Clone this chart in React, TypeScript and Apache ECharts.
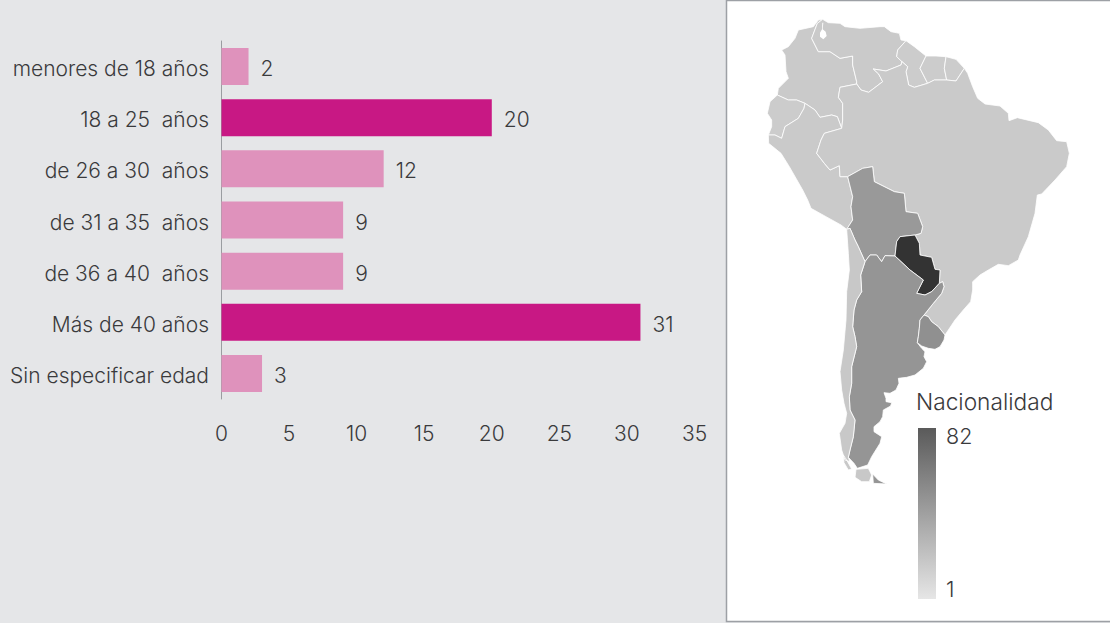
import React, { useEffect, useRef } from "react";
import * as echarts from "echarts";

// ---------- bar chart data ----------
const ageCategories = [
  "menores de 18 años",
  "18 a 25  años",
  "de 26 a 30  años",
  "de 31 a 35  años",
  "de 36 a 40  años",
  "Más de 40 años",
  "Sin especificar edad",
];
const ageValues = [2, 20, 12, 9, 9, 31, 3];
const highlighted = [false, true, false, false, false, true, false];

// ---------- map data ----------
const countryNames = [
  "Argentina", "Bolivia", "Brasil", "Chile", "Colombia", "Ecuador",
  "Guayana Francesa", "Guyana", "Paraguay", "Perú", "Surinam", "Uruguay", "Venezuela",
];
const countryValues = [30, 28, 2, 3, 2, 1, 1, 1, 82, 2, 1, 33, 2];

type P = [number, number];
// traces, each in the frame of one reference crop
const frame = (ox: number, oy: number) => (a: number[][]): P[] => a.map(([x, y]) => [ox + x / 3, oy + y / 3]);
const n = frame(726, 0);
const s = frame(800, 220);
const c = frame(830, 400);
const d = frame(760, 10);
const e = frame(940, 100);
const r = (a: P[]): P[] => [...a].reverse();

const colCoast = d([[188,28],[175,30],[160,50],[115,60],[105,85],[85,110],[65,120],[75,135],[78,185],[85,205],[55,235],[52,255]]);
const colVen = d([[188,28],[172,40],[155,85],[175,125],[210,125],[240,145],[278,138],[278,165],[290,215],[290,222]]);
const colBra = d([[290,222],[240,232],[235,262],[248,280],[248,330],[245,355]]);
const colPer = d([[245,355],[232,320],[215,315],[180,322],[165,300],[135,280]]);
const colEcu = d([[135,280],[110,270],[85,270],[52,255]]);
const ecuCoast = d([[52,255],[30,275],[22,310],[35,330],[35,350],[25,375]]);
const ecuPer = d([[25,375],[45,375],[65,385],[75,350],[115,325],[132,295],[135,280]]);
const perCoast = [...d([[25,375]]), ...n([[128,430],[165,460],[190,500],[230,570],[245,600],[255,625],[300,650],[345,675],[362,688]])];
const perBol = n([[362,688],[380,660],[375,620],[380,590],[365,530]]);
const perBra = [...n([[365,530],[342,530],[340,497],[312,510],[295,490],[272,460],[285,420],[295,400]]), ...d([[245,355]])];
const venCoast = [...d([[188,28],[205,38],[240,40],[255,50],[300,55],[360,50]]), ...n([[475,80],[495,95],[520,100],[525,120],[540,122]])];
const venGuy = n([[540,122],[515,150],[512,170],[528,185]]);
const venBra = [...n([[528,185],[525,195],[480,213],[442,207],[458,222],[470,245],[428,277],[405,270]]), ...d([[290,222]])];
const maracaibo = d([[187,38],[190,38],[188,58],[197,65],[200,78],[190,88],[180,80],[180,68],[186,58]]);
const guyCoast = n([[540,122],[565,140],[600,168]]);
const guySur = n([[600,168],[582,205],[605,250]]);
const guyBra = n([[605,250],[565,262],[548,255],[540,215],[545,200],[528,185]]);
const surCoast = n([[600,168],[630,168],[660,170]]);
const surFg = n([[660,170],[655,205],[662,240]]);
const surBra = n([[662,240],[625,240],[605,250]]);
const fgCoast = n([[660,170],[690,178],[715,205]]);
const fgBra = n([[715,205],[690,243],[662,240]]);
const braCoast = [
  ...n([[715,205],[725,220],[740,260],[755,295]]),
  ...e([[130,8],[135,12],[180,18],[205,40],[207,62],[232,53],[295,68],[325,90],[350,122],[380,125],[388,160],[380,200],[345,240],[305,282],[292,285],[285,340],[265,410],[240,465],[235,480],[205,497],[175,493],[145,510],[120,525],[98,545],[98,570]]),
  ...s([[512,245],[490,270],[465,300],[445,330],[435,345]]),
];
const braUru = s([[435,345],[415,320],[395,305],[385,290],[372,285]]);
const braArg = s([[372,285],[400,250],[425,220],[432,200],[428,185],[418,190]]);
const braPar = s([[418,190],[420,150],[405,148],[395,112],[360,105],[358,70],[345,45]]);
const bolBra = [
  ...n([[365,530],[410,505],[440,500],[445,545],[505,575],[535,580],[540,635],[575,640],[590,680],[585,700]]),
  ...s([[345,45]]),
];
const parBol = s([[285,108],[290,65],[300,50],[345,45]]);
const parArg = s([[418,190],[395,215],[375,225],[350,220],[370,180],[330,150],[285,108]]);
const bolArg = s([[285,108],[255,107],[245,125],[230,105],[210,105],[195,125]]);
const bolChi = [...s([[195,125],[175,80],[165,60],[150,25]]), ...n([[362,688]])];
const argChi = s([[195,125],[182,165],[185,215],[170,240],[162,270],[158,320],[165,350],[170,380],[160,420],[155,440],[155,490],[148,530],[150,570],[165,600],[160,650],[150,690],[145,712]]);
const argCoast = [
  ...s([[352,368],[365,385],[375,395],[372,410],[380,425],[370,445],[345,465],[320,472],[295,475],[297,490],[288,510],[270,520],[252,518],[258,535],[258,545],[275,548],[272,558],[250,570],[248,590],[240,605],[222,620],[222,635],[245,650],[240,670]]),
  ...c([[125,170],[113,195],[82,205],[72,190]]),
  ...s([[145,712]]),
];
const argUru = s([[352,368],[355,350],[358,325],[360,300],[372,285]]);
const uruCoast = s([[435,345],[432,360],[420,380],[405,388],[385,385],[365,378],[352,368]]);
const chiCoast = [
  ...c([[60,185],[45,180],[35,150],[28,100],[45,70],[50,40],[42,10]]),
  ...s([[125,510],[120,455],[130,390],[138,300],[140,215],[148,150],[145,100],[140,28]]),
];
const chileIsle = c([[40,165],[50,180],[65,207],[55,210],[42,188]]);
const chileFuego = c([[78,208],[115,205],[125,225],[118,245],[95,245],[75,232]]);
const tierraFuego = c([[128,222],[145,240],[170,252],[130,250]]);

const rings: Record<string, P[][][]> = {
  Colombia: [[[...colVen, ...colBra, ...colPer, ...colEcu, ...r(colCoast)]]],
  Ecuador: [[[...ecuCoast, ...ecuPer, ...colEcu]]],
  "Perú": [[[...perCoast, ...perBol, ...perBra, ...colPer, ...r(ecuPer)]]],
  Venezuela: [[[...venCoast, ...venGuy, ...venBra, ...r(colVen)]]],
  Guyana: [[[...guyCoast, ...guySur, ...guyBra, ...r(venGuy)]]],
  Surinam: [[[...surCoast, ...surFg, ...surBra, ...r(guySur)]]],
  "Guayana Francesa": [[[...fgCoast, ...fgBra, ...r(surFg)]]],
  Brasil: [[[...braCoast, ...braUru, ...braArg, ...braPar, ...r(bolBra), ...perBra, ...r(colBra), ...r(venBra), ...r(guyBra), ...r(surBra), ...r(fgBra)]]],
  Bolivia: [[[...bolBra, ...r(parBol), ...bolArg, ...bolChi, ...perBol]]],
  Paraguay: [[[...parBol, ...r(braPar), ...parArg]]],
  Argentina: [[[...bolArg, ...argChi, ...r(argCoast), ...argUru, ...braArg, ...parArg]], [tierraFuego]],
  Uruguay: [[[...argUru, ...r(braUru), ...uruCoast]]],
  Chile: [[[...r(bolChi), ...argChi, ...chiCoast]], [chileIsle], [chileFuego]],
};

const closeRing = (ring: P[]): P[] => [...ring, ring[0]];
const geoJson = {
  type: "FeatureCollection",
  features: Object.keys(rings).map((name) => ({
    type: "Feature",
    properties: { name },
    geometry: { type: "MultiPolygon", coordinates: rings[name].map((poly) => poly.map(closeRing)) },
  })),
};
const allPts = Object.values(rings).flat(3) as P[];
const minX = Math.min(...allPts.map((p) => p[0]));
const maxX = Math.max(...allPts.map((p) => p[0]));
const minY = Math.min(...allPts.map((p) => p[1]));
const maxY = Math.max(...allPts.map((p) => p[1]));

const FONT = "Inter";
const TEXT = "#3a3a3c";

export default function App() {
  const ref = useRef<HTMLDivElement>(null);
  useEffect(() => {
    document.body.style.margin = "0";
    echarts.registerMap("sudamerica", geoJson as any);
    const chart = echarts.init(ref.current!, null, { renderer: "svg" });
    chart.setOption({
      animation: false,
      backgroundColor: "#e5e6e8",
      textStyle: { fontFamily: FONT },
      grid: { left: 221.5, top: 41, width: 473, height: 358, containLabel: false },
      xAxis: {
        type: "value",
        min: 0,
        max: 35,
        interval: 5,
        splitLine: { show: false },
        axisLine: { show: false },
        axisTick: { show: false },
        axisLabel: { color: TEXT, fontFamily: FONT, fontSize: 21, fontWeight: 300, margin: 24 },
      },
      yAxis: {
        type: "category",
        inverse: true,
        data: ageCategories,
        axisLine: { show: true, lineStyle: { color: "#9a9da1", width: 1 } },
        axisTick: { show: false },
        axisLabel: {
          margin: 12.5,
          formatter: "{a|{value}}",
          rich: { a: { color: TEXT, fontFamily: FONT, fontSize: 21, fontWeight: 300, padding: [4, 0, 0, 0] } },
        },
      },
      visualMap: {
        type: "continuous",
        show: false,
        seriesIndex: 1,
        min: 1,
        max: 82,
        inRange: { color: ["#cccccc", "#333333"] },
      },
      series: [
        {
          type: "bar",
          barWidth: 37,
          data: ageValues.map((value, i) => ({
            value,
            itemStyle: { color: highlighted[i] ? "#c81884" : "#df92bc" },
          })),
          label: {
            show: true,
            position: "right",
            distance: 12,
            offset: [0, 2],
            color: TEXT,
            fontFamily: FONT,
            fontSize: 21,
            fontWeight: 300,
          },
          silent: true,
        },
        {
          type: "map",
          map: "sudamerica",
          projection: {
            project: (p: number[]) => p,
            unproject: (p: number[]) => p,
          },
          left: minX,
          top: minY,
          width: maxX - minX,
          height: maxY - minY,
          aspectScale: 1,
          roam: false,
          silent: true,
          z: 3,
          label: { show: false },
          itemStyle: { borderColor: "#ffffff", borderWidth: 0.8 },
          data: countryNames.map((name, i) => ({ name, value: countryValues[i] })),
        },
      ],
      graphic: [
        {
          type: "rect",
          z: 1,
          silent: true,
          shape: { x: 726.5, y: 0.5, width: 400, height: 621 },
          style: { fill: "#ffffff", stroke: "#9da0a5", lineWidth: 1.5 },
        },
        {
          type: "polygon",
          z: 6,
          silent: true,
          shape: { points: maracaibo },
          style: { fill: "#ffffff" },
        },
        {
          type: "rect",
          z: 6,
          silent: true,
          shape: { x: 918, y: 428, width: 18, height: 171 },
          style: {
            fill: {
              type: "linear", x: 0, y: 0, x2: 0, y2: 1,
              colorStops: [
                { offset: 0, color: "#5a5a5a" },
                { offset: 1, color: "#e6e6e6" },
              ],
            },
          },
        },
        {
          type: "text",
          z: 10,
          x: 916,
          y: 401,
          style: { text: "Nacionalidad", fill: TEXT, fontFamily: FONT, fontSize: 22.7, fontWeight: 300, textVerticalAlign: "middle" },
        },
        {
          type: "text",
          z: 10,
          x: 946,
          y: 436,
          style: { text: "82", fill: TEXT, fontFamily: FONT, fontSize: 21.5, fontWeight: 300, textVerticalAlign: "middle" },
        },
        {
          type: "text",
          z: 10,
          x: 946,
          y: 589,
          style: { text: "1", fill: TEXT, fontFamily: FONT, fontSize: 21.5, fontWeight: 300, textVerticalAlign: "middle" },
        },
      ],
    });
    return () => chart.dispose();
  }, []);
  return <div ref={ref} style={{ position: "fixed", left: 0, top: 0, width: 1110, height: 623 }} />;
}
